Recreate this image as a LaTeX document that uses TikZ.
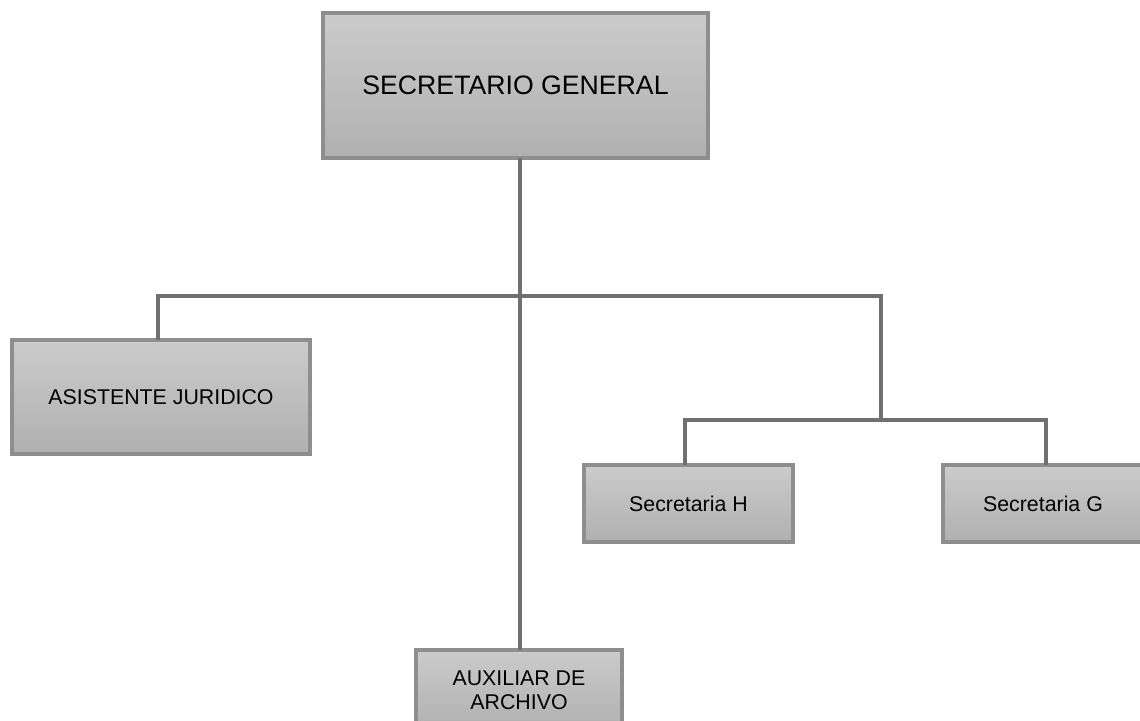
\documentclass[tikz,border=0pt]{standalone}
\usepackage{fontspec}
\setmainfont{Liberation Sans}
\definecolor{boxtop}{HTML}{CBCBCB}
\definecolor{boxbot}{HTML}{B0B0B0}
\definecolor{boxedge}{HTML}{8E8E8E}
\definecolor{linecol}{HTML}{707070}
\begin{document}
\begin{tikzpicture}[x=0.75pt,y=-0.75pt,
  orgbox/.style={draw=boxedge,line width=2.4pt,top color=boxtop,bottom color=boxbot,
    inner sep=0pt,outer sep=0pt,align=center,font=\fontsize{16}{18}\selectfont},
  link/.style={draw=linecol,line width=2.3pt}]
\useasboundingbox (0,0) rectangle (1140,721);
\node[orgbox,minimum width=385*0.75pt,minimum height=145*0.75pt,font=\fontsize{20}{24}\selectfont] (sg) at (515.5,85.5) {SECRETARIO GENERAL};
\node[orgbox,minimum width=298*0.75pt,minimum height=114*0.75pt] (aj) at (161,397) {ASISTENTE JURIDICO};
\node[orgbox,minimum width=206*0.75pt,minimum height=80*0.75pt] (aa) at (519,690) {AUXILIAR DE\\ARCHIVO};
\node[orgbox,minimum width=209*0.75pt,minimum height=77*0.75pt] (sh) at (688.5,503.5) {Secretaria H};
\node[orgbox,minimum width=200*0.75pt,minimum height=77*0.75pt] (sgg) at (1043,503.5) {Secretaria G};
\coordinate (j1) at (520,296);
\coordinate (j2) at (881,420);
\draw[link] (sg.south -| j1) -- (aa.north -| j1);
\draw[link] (aj.north -| 158,0) -- (158,296) -- (881,296) -- (j2);
\draw[link] (sh.north -| 685,0) -- (685,420) -- (1046,420) -- (sgg.north -| 1046,0);
\end{tikzpicture}
\end{document}
